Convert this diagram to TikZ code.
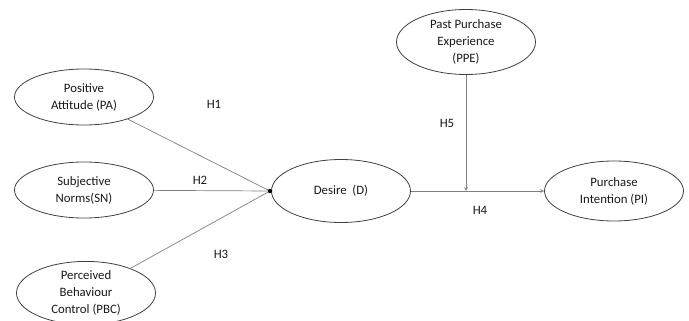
\documentclass[tikz,border=0pt]{standalone}
\usepackage{fontspec}
\setmainfont{Carlito}
\usetikzlibrary{shapes.geometric}
\begin{document}
\begin{tikzpicture}[x=1pt,y=-1pt,line join=round,>=stealth,
		construct/.style={ellipse,draw=black!75,line width=0.8pt,minimum width=139pt,minimum height=56pt,inner sep=0pt,align=center,text=black!90,font=\fontsize{12.8}{17}\selectfont},
		link/.style={draw=black!50,line width=0.7pt},
		hyp/.style={text=black!90,font=\fontsize{12.8}{14}\selectfont}]
	\useasboundingbox (0,0) rectangle (689,321);
	% exogenous constructs
	\node[construct] (PA) at (84,97) {Positive\\Attitude (PA)};
	\node[construct] (SN) at (84,190) {Subjective\\Norms(SN)};
	\node[construct,minimum height=60pt] (PBC) at (86,293) {Perceived\\Behaviour\\Control (PBC)};
	% desire and intention
	\node[construct,minimum height=63pt] (D) at (341,191) {Desire\ \ (D)};
	\node[construct,minimum height=60pt] (PI) at (614,191) {Purchase\\Intention (PI)};
	\node[construct,minimum height=65pt] (PPE) at (466,42) {Past Purchase\\Experience\\(PPE)};
	\node[circle,fill=black,inner sep=0pt,minimum size=4.5pt] (J) at (270,191) {};
	\coordinate (M) at (466,191);
	\draw[link] (PA) -- (J);
	\draw[link] (SN) -- (J);
	\draw[link] (PBC) -- (J);
	\draw[link,->] (D) -- (PI);
	\draw[link,->] (PPE) -- (M);
	\node[hyp] (h1) at (214,104) {H1};
	\node[hyp] (h2) at (200,180) {H2};
	\node[hyp] (h3) at (221,254) {H3};
	\node[hyp] (h4) at (480,210) {H4};
	\node[hyp] (h5) at (447,123) {H5};
\end{tikzpicture}
\end{document}
